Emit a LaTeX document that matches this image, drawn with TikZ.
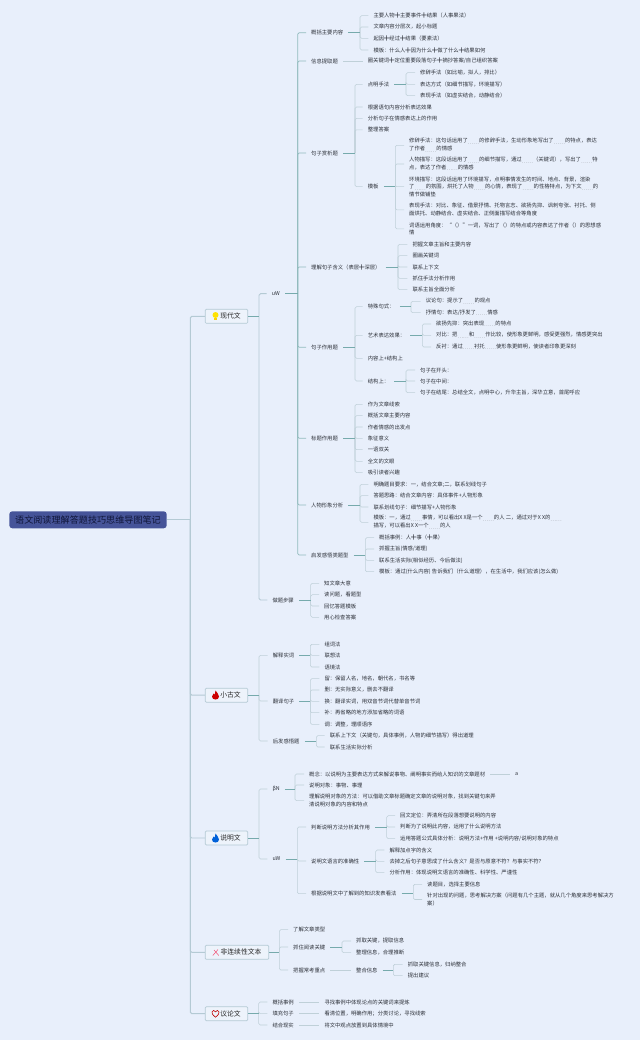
\documentclass[tikz,border=0pt]{standalone}
\usepackage{fontspec}
\setmainfont{Noto Sans CJK SC}
\definecolor{bgc}{HTML}{E8EFFB}
\definecolor{spk}{HTML}{BFD0D8}
\definecolor{tealc}{HTML}{76AAAC}
\definecolor{boxf}{HTML}{EDF3FB}
\definecolor{boxl}{HTML}{B4CAD4}
\definecolor{txtc}{HTML}{2C3038}
\definecolor{rootc}{HTML}{465499}
\definecolor{roott}{HTML}{10163A}
\tikzset{
 txt/.style={anchor=west,inner xsep=5pt,inner ysep=1pt,xshift=-5pt,align=left,text=txtc,font=\fontsize{5.33}{7.7}\selectfont},
 topbox/.style={draw=boxl,line width=.7pt,fill=boxf,rounded corners=1pt,inner sep=0pt,text=black!85,font=\fontsize{6.8}{8}\selectfont},
 rootbox/.style={fill=rootc,rounded corners=3pt,inner sep=0pt,text=roott,font=\fontsize{9.1}{11}\selectfont},
 spoke/.style={draw=spk,line width=.55pt,rounded corners=1.5pt},
 stem/.style={draw=tealc,line width=.65pt},
 mainline/.style={draw=boxl,line width=.95pt,rounded corners=1.5pt},
 tealspine/.style={draw=tealc!80,line width=.7pt,rounded corners=1.5pt}
}
\newcommand\tx[4]{\node[txt] (#1) at (#2,#3) {#4};}
\newcommand\kidz[4][spoke]{\coordinate (S) at (#3,0);
  \foreach \c in {#4}{\draw[#1] (#2.east -| S) |- (\c.west);}
  \draw[stem] (#2.east) -- (#2.east -| S);}
\newcommand\onekid[2]{\draw[spoke] (#1.east) -- (#1.east -| #2.west);}
\newcommand\pl{╋}
\newcommand\dd{{\color{txtc!55}\raisebox{-1.4pt}{……}}}
\begin{document}
\begin{tikzpicture}[x=1pt,y=-1pt]
\path[fill=bgc] (0,0) rectangle (640,1040);
\useasboundingbox (0,0) rectangle (640,1040);
% top level
\node[rootbox,minimum width=157.4pt,minimum height=17pt] (root) at (88,519.8) {语文阅读理解答题技巧思维导图笔记};
\node[topbox,minimum width=42.4pt,minimum height=14pt] (xd) at (226.5,316.3) {\hspace*{8pt}现代文};
\node[topbox,minimum width=42.4pt,minimum height=14pt] (xg) at (226.5,695.2) {\hspace*{8pt}小古文};
\node[topbox,minimum width=42.4pt,minimum height=14pt] (sm) at (226.5,838) {\hspace*{8pt}说明文};
\node[topbox,minimum width=63.4pt,minimum height=14pt] (fl) at (237,952.3) {\hspace*{8pt}非连续性文本};
\node[topbox,minimum width=42.4pt,minimum height=14pt] (yl) at (226.5,1013.7) {\hspace*{8pt}议论文};
\kidz[mainline]{root}{190.3}{xd,xg,sm,fl,yl}
\draw[mainline] (root.east) -- (root.east -| S);
% icons
\fill[yellow!85!orange] (215.5,315) circle (3pt);
\fill[yellow!70!orange] (214,317.5) rectangle (217,320.3);
\fill[red!80!black] (215.5,690.5) .. controls (216,692.5) and (219.2,693.5) .. (219,696.5) .. controls (218.8,698.8) and (217.5,699.5) .. (215.5,699.5) .. controls (213.5,699.5) and (212,698.5) .. (212,696.5) .. controls (212,695) and (213,694.5) .. (213.5,693.5) .. controls (214,694.3) and (214.3,694.6) .. (214.8,694.6) .. controls (215.3,693.5) and (215.6,692) .. (215.5,690.5) -- cycle;
\fill[blue!55!cyan!85!black] (215.5,833.5) .. controls (216,835.5) and (219.2,836.5) .. (219,839.5) .. controls (218.8,841.8) and (217.5,842.5) .. (215.5,842.5) .. controls (213.5,842.5) and (212,841.5) .. (212,839.5) .. controls (212,838) and (213,837.5) .. (213.5,836.5) .. controls (214,837.3) and (214.3,837.6) .. (214.8,837.6) .. controls (215.3,836.5) and (215.6,835) .. (215.5,833.5) -- cycle;
\draw[magenta!45!red!70!white,line width=.5pt] (212.8,955.5) -- (218,949.5);
\draw[magenta!45!red!70!white,line width=.5pt] (214,950) -- (218.8,955.5);
\draw[red!75!black,line width=.6pt] (215.5,1017.2) .. controls (212.5,1014.8) and (211.8,1013.5) .. (212,1012) .. controls (212.2,1010) and (214.7,1009.8) .. (215.5,1011.8) .. controls (216.3,1009.8) and (218.8,1010) .. (219,1012) .. controls (219.2,1013.5) and (218.5,1014.8) .. (215.5,1017.2) -- cycle;
% 现代文
\tx{uw1}{271.7}{293.7}{uW}
\tx{buz}{272.3}{600}{做题步骤}
\kidz[mainline]{xd}{259}{uw1,buz}
\tx{a1}{311}{32.7}{概括主要内容}
\tx{a2}{311}{61}{信息提取题}
\tx{a3}{311}{153}{句子赏析题}
\tx{a4}{311}{267}{理解句子含义（表层\pl 深层）}
\tx{a5}{311}{347.3}{句子作用题}
\tx{a6}{311}{438.3}{标题作用题}
\tx{a7}{311}{505}{人物形象分析}
\tx{a8}{311}{555}{启发感悟类题型}
\kidz[tealspine]{uw1}{297.7}{a1,a2,a3,a4,a5,a6,a7,a8}
\tx{a11}{373.3}{15.7}{主要人物\pl 主要事件\pl 结果（人事果法）}
\tx{a12}{373.3}{27}{文章内容分层次，起小标题}
\tx{a13}{373.3}{38.3}{起因\pl 经过\pl 结果（要素法）}
\tx{a14}{373.3}{50}{模板：什么人\pl 因为什么\pl 做了什么\pl 结果如何}
\kidz{a1}{360}{a11,a12,a13,a14}
\tx{a21}{367.7}{61}{圈关键词\pl 定位重要段落句子\pl 摘抄答案/自己组织答案}
\onekid{a2}{a21}
\tx{a31}{367.7}{84.3}{点明手法}
\tx{a32}{367.7}{107}{根据语句内容分析表达效果}
\tx{a33}{367.7}{118.3}{分析句子在情感表达上的作用}
\tx{a34}{367.7}{129.8}{整理答案}
\tx{a35}{367.7}{186.7}{模板}
\kidz{a3}{355}{a31,a32,a33,a34,a35}
\tx{a311}{420}{72.7}{修辞手法（如比喻，拟人，排比）}
\tx{a312}{420}{84.3}{表达方式（如细节描写，环境描写）}
\tx{a313}{420}{95.7}{表现手法（如虚实结合，动静结合）}
\kidz{a31}{406}{a311,a312,a313}
\tx{a351}{409}{145.3}{修辞手法：这句话运用了\dd 的修辞手法，生动形象地写出了\dd 的特点，表达\\了作者\dd 的情感}
\tx{a352}{409}{164}{人物描写：这段话运用了\dd 的细节描写，通过\dd （关键词），写出了\dd 特\\点，表达了作者\dd 的情感}
\tx{a353}{409}{186.7}{环境描写：这段话运用了环境描写，点明事情发生的时间、地点、背景，渲染\\了\dd 的氛围，烘托了人物\dd 的心情，表现了\dd 的性格特点，为下文\dd 的\\情节做铺垫}
\tx{a354}{409}{209.8}{表现手法：对比、象征、借景抒情、托物言志、欲扬先抑、讽刺夸张、衬托、侧\\面烘托、动静结合、虚实结合、正侧面描写结合等角度}
\tx{a355}{409}{228.8}{词语运用角度：“（）”一词，写出了（）的特点或内容表达了作者（）的思想感\\情}
\kidz{a35}{395.3}{a351,a352,a353,a354,a355}
\tx{a41}{412.3}{244.3}{把握文章主旨和主要内容}
\tx{a42}{412.3}{255.7}{圈画关键词}
\tx{a43}{412.3}{267}{联系上下文}
\tx{a44}{412.3}{278.3}{抓住手法分析作用}
\tx{a45}{412.3}{289.7}{联系主旨全面分析}
\kidz{a4}{398}{a41,a42,a43,a44,a45}
\tx{a51}{367.7}{306.7}{特殊句式：}
\tx{a52}{367.7}{335.3}{艺术表达效果：}
\tx{a53}{367.7}{358.3}{内容上+结构上}
\tx{a54}{367.7}{381}{结构上：}
\kidz{a5}{355}{a51,a52,a53,a54}
\tx{a511}{425.7}{301.3}{议论句：提示了\dd 的观点}
\tx{a512}{425.7}{312.7}{抒情句：表达/抒发了\dd 情感}
\kidz{a51}{411}{a511,a512}
\tx{a521}{436}{324}{欲扬先抑：突出表现\dd 的特点}
\tx{a522}{436}{335.3}{对比：把\dd 和\dd 作比较，使形象更鲜明，感受更强烈，情感更突出}
\tx{a523}{436}{347}{反衬：通过\dd 衬托\dd 使形象更鲜明，使读者印象更深刻}
\kidz{a52}{422.3}{a521,a522,a523}
\tx{a541}{420}{370}{句子在开头：}
\tx{a542}{420}{381}{句子在中间：}
\tx{a543}{420}{392.7}{句子在结尾：总结全文，点明中心，升华主旨，深华立意，首尾呼应}
\kidz{a54}{406}{a541,a542,a543}
\tx{a61}{367.7}{404.3}{作为文章线索}
\tx{a62}{367.7}{415.7}{概括文章主要内容}
\tx{a63}{367.7}{427}{作者情感的出发点}
\tx{a64}{367.7}{438.3}{象征意义}
\tx{a65}{367.7}{449.7}{一语双关}
\tx{a66}{367.7}{461.3}{全文的文眼}
\tx{a67}{367.7}{472.7}{吸引读者兴趣}
\kidz{a6}{355}{a61,a62,a63,a64,a65,a66,a67}
\tx{a71}{373.3}{484.3}{明确题目要求：一，结合文章;二，联系划线句子}
\tx{a72}{373.3}{495.7}{答题思路：结合文章内容：具体事件+人物形象}
\tx{a73}{373.3}{507}{联系划线句子：细节描写+人物形象}
\tx{a74}{373.3}{522.3}{模板：一，通过\dd 事情，可以看出X X是一个\dd 的人 二，通过对于X X的\dd \\描写，可以看出X X一个\dd 的人}
\kidz{a7}{360}{a71,a72,a73,a74}
\tx{a81}{379}{537.7}{概括事例：人\pl 事（\pl 果）}
\tx{a82}{379}{549}{抓握主旨(情感/道理)}
\tx{a83}{379}{560.3}{联系生活实际(相似经历、今后做法)}
\tx{a84}{379}{571.7}{模板：通过(什么内容) 告诉我们（什么道理），在生活中，我们应该(怎么做)}
\kidz{a8}{365.3}{a81,a82,a83,a84}
\tx{b1}{324}{583.3}{知文章大意}
\tx{b2}{324}{594.7}{读问题，看题型}
\tx{b3}{324}{606}{回忆答题模板}
\tx{b4}{324}{617.3}{用心检查答案}
\kidz{buz}{310.7}{b1,b2,b3,b4}
% 小古文
\tx{c1}{272.7}{655.3}{解释实词}
\tx{c2}{272.7}{701}{翻译句子}
\tx{c3}{272.7}{741}{后发感悟题}
\kidz{xg}{259}{c1,c2,c3}
\tx{c11}{324.3}{644.3}{组词法}
\tx{c12}{324.3}{655.3}{联想法}
\tx{c13}{324.3}{667}{语境法}
\kidz{c1}{310.3}{c11,c12,c13}
\tx{c21}{324.3}{678.7}{留：保留人名，地名，朝代名，书名等}
\tx{c22}{324.3}{690}{删：无实际意义，删去不翻译}
\tx{c23}{324.3}{701.3}{换：翻译实词，用双音节词代替单音节词}
\tx{c24}{324.3}{712.7}{补：再省略的地方添加省略的词语}
\tx{c25}{324.3}{724.3}{调：调整，理顺语序}
\kidz{c2}{310.3}{c21,c22,c23,c24,c25}
\tx{c31}{329.7}{735.7}{联系上下文（关键句，具体事例，人物的细节描写）得出道理}
\tx{c32}{329.7}{747}{联系生活实际分析}
\kidz{c3}{316.3}{c31,c32}
% 说明文
\tx{d1}{272.3}{789}{βN}
\tx{d2}{272.3}{859}{uW}
\kidz{sm}{259}{d1,d2}
\tx{d11}{309}{774}{概念：以说明为主要表达方式来解说事物、阐明事实而给人知识的文章题材}
\tx{d12}{309}{785}{说明对象：事物、事理}
\tx{d13}{309}{800.7}{理解说明对象的方法：可以借助文章标题确定文章的说明对象，找到关键句来弄\\清说明对象的内容和特点}
\kidz{d1}{295}{d11,d12,d13}
\tx{d111}{515}{774}{a}
\onekid{d11}{d111}
\tx{d21}{311}{827}{判断说明方法分析其作用}
\tx{d22}{311}{861}{说明文语言的准确性}
\tx{d23}{311}{893.7}{根据说明文中了解到的知识发表看法}
\kidz{d2}{297.3}{d21,d22,d23}
\tx{d211}{400}{815.7}{回文定位：弄清所在段落想要说明的内容}
\tx{d212}{400}{827}{判断为了说明此内容，运用了什么说明方法}
\tx{d213}{400}{838.7}{运用答题公式具体分析：说明方法+作用 +说明内容/说明对象的特点}
\kidz{d21}{386.7}{d211,d212,d213}
\tx{d221}{389.3}{850}{解释加点字的含义}
\tx{d222}{389.3}{861.3}{去掉之后句子意思成了什么含义？是否与原意不符？与事实不符？}
\tx{d223}{389.3}{872.7}{分析作用：体现说明文语言的准确性、科学性、严谨性}
\kidz{d22}{375.7}{d221,d222,d223}
\tx{d231}{427}{884.3}{读题目，选择主要信息}
\tx{d232}{427}{899.5}{针对出现的问题，思考解决方案（问题有几个主题，就从几个角度来思考解决方\\案）}
\kidz{d23}{413.3}{d231,d232}
% 非连续性文本
\tx{e1}{293}{929.7}{了解文章类型}
\tx{e2}{293}{947}{抓住阅读关键}
\tx{e3}{293}{970}{把握常考重点}
\kidz{fl}{279.3}{e1,e2,e3}
\tx{e21}{356}{941}{抓取关键，提取信息}
\tx{e22}{356}{952.7}{整理信息，合理推断}
\kidz{e2}{342}{e21,e22}
\tx{e31}{356}{970}{整合信息}
\onekid{e3}{e31}
\tx{e311}{407.7}{964.3}{抓取关键信息，归纳整合}
\tx{e312}{407.7}{975.7}{提出建议}
\kidz{e31}{393.3}{e311,e312}
% 议论文
\tx{f1}{272.3}{1002}{概括事例}
\tx{f2}{272.3}{1013.7}{填充句子}
\tx{f3}{272.3}{1025}{结合现实}
\kidz{yl}{258.7}{f1,f2,f3}
\tx{f11}{324.3}{1002}{寻找事例中体现论点的关键词来提炼}
\tx{f21}{324.3}{1013.7}{看清位置，明确作用；分类讨论，寻找线索}
\tx{f31}{324.3}{1025}{将文中观点放置到具体情境中}
\onekid{f1}{f11}
\onekid{f2}{f21}
\onekid{f3}{f31}
\end{tikzpicture}
\end{document}
